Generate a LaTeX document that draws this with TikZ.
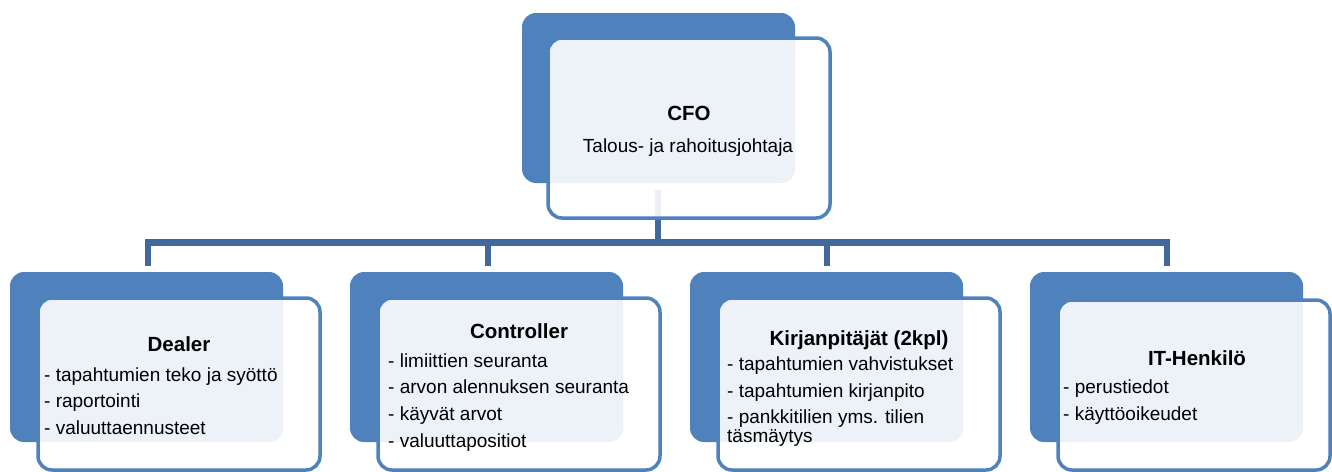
\documentclass[tikz,border=0pt]{standalone}
\usepackage{fontspec}
\setmainfont{Liberation Sans}
\definecolor{boxblue}{RGB}{79,129,189}
\definecolor{linkblue}{RGB}{65,104,156}
\begin{document}
\begin{tikzpicture}[x=1pt,y=-1pt,
  backbox/.style={fill=boxblue, rounded corners=14pt, inner sep=0pt, outer sep=0pt, minimum width=273pt, minimum height=170pt},
  frontbox/.style={fill=white, fill opacity=0.9, text opacity=1, draw=boxblue, line width=3.5pt, rounded corners=14pt, inner sep=0pt, outer sep=0pt, minimum width=282pt, minimum height=172pt},
  link/.style={draw=linkblue, line width=6.5pt},
  title/.style={font=\fontsize{20.5}{24}\selectfont\bfseries, anchor=base, inner sep=0pt},
  item/.style={font=\fontsize{19}{22}\selectfont, anchor=base west, inner sep=0pt},
  sub/.style={font=\fontsize{19}{22}\selectfont, anchor=base, inner sep=0pt},
]
\useasboundingbox (0,0) rectangle (1332,471);

% back boxes
\node[backbox] (cfoB) at (658.5,98) {};
\node[backbox] (dB) at (146.5,357) {};
\node[backbox] (cB) at (486.5,357) {};
\node[backbox] (kB) at (826.5,357) {};
\node[backbox] (iB) at (1166.5,357) {};

% connectors
\coordinate (cfoOut) at (658,190);
\coordinate (hub) at (658,242.5);
\coordinate (dIn) at (148,266);
\coordinate (cIn) at (488,266);
\coordinate (kIn) at (827,266);
\coordinate (iIn) at (1167,266);
\draw[link] (cfoOut) -- (hub);
\draw[link] (hub) -| (dIn);
\draw[link] (hub) -| (cIn);
\draw[link] (hub) -| (kIn);
\draw[link] (hub) -| (iIn);

% front boxes
\node[frontbox, minimum height=180pt] (cfoF) at (689,128) {};
\node[frontbox] (dF) at (179,384) {};
\node[frontbox] (cF) at (519,384) {};
\node[frontbox] (kF) at (859,384) {};
\node[frontbox, minimum width=272pt, minimum height=170pt] (iF) at (1194,385) {};

% CFO text
\node[title] (cfoT) at (689,120) {CFO};
\node[sub] (cfoS) at (688,152) {Talous- ja rahoitusjohtaja};

% Dealer
\node[title] (dT) at (179,351) {Dealer};
\node[item] (d1) at (44,381) {- tapahtumien teko ja syöttö};
\node[item] (d2) at (44,407) {- raportointi};
\node[item] (d3) at (44,434) {- valuuttaennusteet};

% Controller
\node[title] (cT) at (519,338) {Controller};
\node[item] (c1) at (388,367) {- limiittien seuranta};
\node[item] (c2) at (388,393) {- arvon alennuksen seuranta};
\node[item] (c3) at (388,420) {- käyvät arvot};
\node[item] (c4) at (388,447) {- valuuttapositiot};

% Kirjanpitajat
\node[title] (kT) at (859,345) {Kirjanpitäjät (2kpl)};
\node[item] (k1) at (727,370) {- tapahtumien vahvistukset};
\node[item] (k2) at (727,397) {- tapahtumien kirjanpito};
\node[item] (k3) at (727,423) {- pankkitilien yms. tilien};
\node[item] (k4) at (727,442) {täsmäytys};

% IT
\node[title] (iT) at (1197,365) {IT-Henkilö};
\node[item] (i1) at (1063,393) {- perustiedot};
\node[item] (i2) at (1063,420) {- käyttöoikeudet};
\end{tikzpicture}
\end{document}
